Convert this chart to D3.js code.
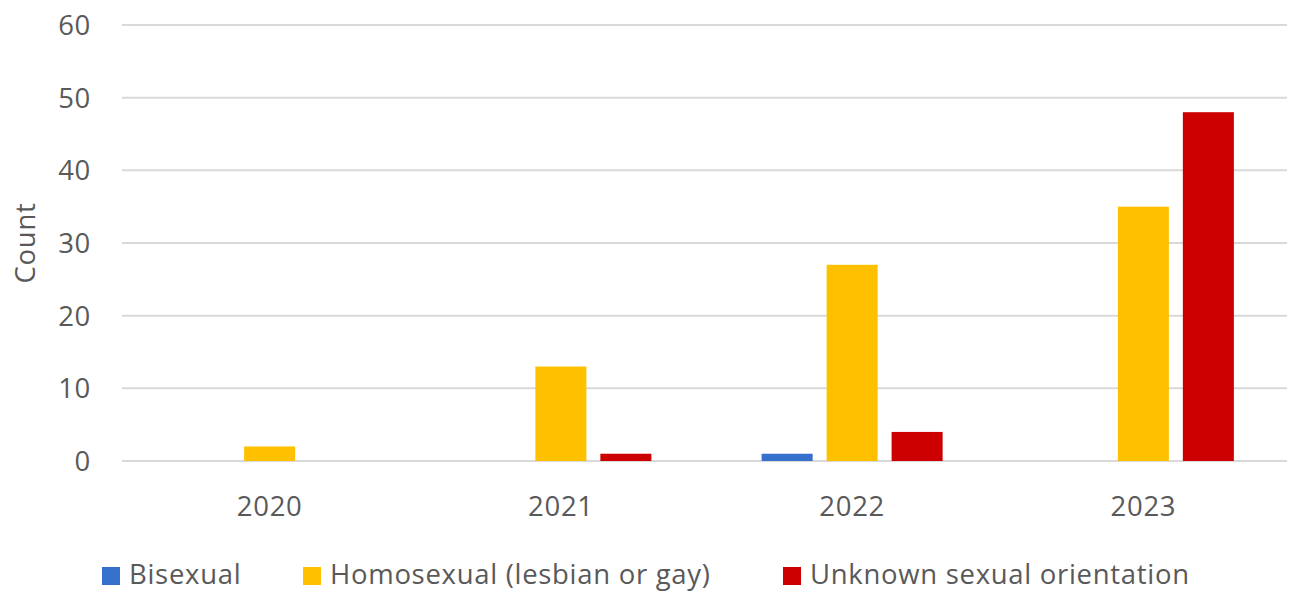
<!DOCTYPE html>
<html>
<head>
<meta charset="utf-8">
<script src="https://cdn.jsdelivr.net/npm/d3@7"></script>
<style>
  html, body { margin: 0; padding: 0; background: #fff; }
  svg text { font-family: "Open Sans", "Noto Sans", sans-serif; fill: #595959; letter-spacing: 0.7px; }
</style>
</head>
<body>
<svg id="chart" width="1291" height="593"></svg>
<script>
// Yearly counts by sexual orientation
const years = ["2020", "2021", "2022", "2023"];
const seriesNames = ["Bisexual", "Homosexual (lesbian or gay)", "Unknown sexual orientation"];
const bisexual = [0, 0, 1, 0];
const homosexual = [2, 13, 27, 35];
const unknown = [0, 1, 4, 48];
const yTicks = [0, 10, 20, 30, 40, 50, 60];
const colors = ["#3470cc", "#ffc000", "#cc0000"];

const seriesValues = [bisexual, homosexual, unknown];
const rows = years.map((yr, i) => ({
  year: yr,
  values: seriesNames.map((name, s) => ({ name, value: seriesValues[s][i] }))
}));

const svg = d3.select("#chart");
const plot = { left: 122, right: 1287, top: 25, bottom: 461 };
const fontSize = 27.5;

const y = d3.scaleLinear().domain([0, 60]).range([plot.bottom, plot.top]);
const x0 = d3.scaleBand().domain(years).range([plot.left, plot.right]).padding(0);
const groupWidth = 181;
const x1 = d3.scaleBand().domain(seriesNames)
  .range([-groupWidth / 2, groupWidth / 2]).paddingInner(0.215).paddingOuter(0);
const color = d3.scaleOrdinal().domain(seriesNames).range(colors);

// horizontal gridlines
svg.append("g").selectAll("line").data(yTicks).join("line")
  .attr("x1", plot.left).attr("x2", plot.right)
  .attr("y1", d => y(d)).attr("y2", d => y(d))
  .attr("stroke", "#d9d9d9").attr("stroke-width", 2);

// y axis tick labels
const yAxis = d3.axisLeft(y).tickValues(yTicks).tickSize(0).tickPadding(0);
const gy = svg.append("g").attr("transform", "translate(91,0)").call(yAxis);
gy.select(".domain").remove();
gy.selectAll("text").attr("font-size", fontSize).attr("fill", "#595959")
  .attr("font-family", "'Open Sans', sans-serif").attr("dy", "0.35em");

// x axis category labels
const xAxis = d3.axisBottom(x0).tickSize(0).tickPadding(0);
const gx = svg.append("g").attr("transform", `translate(2,${plot.bottom + 45})`).call(xAxis);
gx.select(".domain").remove();
gx.selectAll("text").attr("font-size", fontSize).attr("fill", "#595959")
  .attr("font-family", "'Open Sans', sans-serif").attr("dy", "0.35em");

// bars
const groups = svg.append("g").selectAll("g").data(rows).join("g")
  .attr("transform", d => `translate(${x0(d.year) + x0.bandwidth() / 2 + 2},0)`);
groups.selectAll("rect").data(d => d.values).join("rect")
  .attr("x", d => x1(d.name))
  .attr("width", x1.bandwidth())
  .attr("y", d => y(d.value))
  .attr("height", d => y(0) - y(d.value))
  .attr("fill", d => color(d.name));

// y axis title
svg.append("text")
  .attr("transform", "translate(35,243) rotate(-90)")
  .attr("text-anchor", "middle")
  .attr("font-size", fontSize)
  .text("Count");

// legend
const legendX = [102, 303, 783];
const legend = svg.append("g").selectAll("g").data(seriesNames).join("g")
  .attr("transform", (d, i) => `translate(${legendX[i]},574)`);
legend.append("rect").attr("x", 0).attr("y", -7).attr("width", 18).attr("height", 18)
  .attr("fill", d => color(d));
legend.append("text").attr("x", 27).attr("dy", "0.35em").attr("font-size", fontSize).text(d => d);
</script>
</body>
</html>
